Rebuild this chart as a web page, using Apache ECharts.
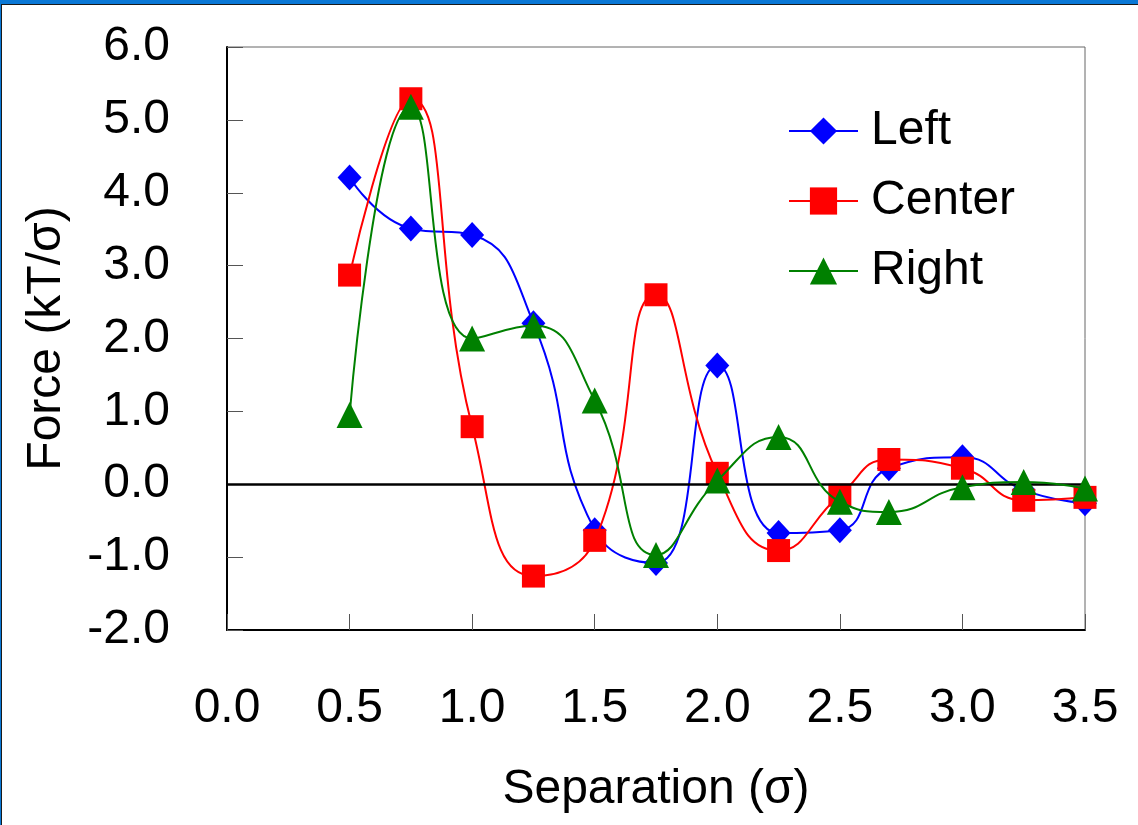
<!DOCTYPE html>
<html>
<head>
<meta charset="utf-8">
<title>Force vs Separation</title>
<script src="https://cdn.jsdelivr.net/npm/echarts@6/dist/echarts.min.js"></script>
<style>
  html, body { margin: 0; padding: 0; background: #fff; }
  #chart { position: absolute; left: 0; top: 0; width: 1138px; height: 825px; }
  #frame {
    position: absolute; left: 0; top: 0; width: 1138px; height: 825px;
    box-sizing: border-box; pointer-events: none;
    border-top: 4px solid #0a78d6; border-left: 1px solid #0a78d6;
  }
  #frame div {
    width: 100%; height: 100%; box-sizing: border-box;
    border-top: 1px solid #1a1a1a; border-left: 1px solid #1a1a1a;
  }
</style>
</head>
<body>
<div id="chart"></div>
<div id="frame"><div></div></div>
<script>
// separation values (sigma)
var separation = [0.5, 0.75, 1.0, 1.25, 1.5, 1.75, 2.0, 2.25, 2.5, 2.7, 3.0, 3.25, 3.5];

// force values (kT/sigma)
var leftForce   = [4.21, 3.51, 3.42, 2.21, -0.63, -1.08, 1.63, -0.67, -0.63, 0.22, 0.37, -0.08, -0.26];
var centerForce = [2.87, 5.29, 0.79, -1.26, -0.77, 2.60, 0.15, -0.91, -0.15, 0.34, 0.22, -0.22, -0.18];
var rightForce  = [0.95, 5.18, 2.00, 2.18, 1.15, -0.97, 0.05, 0.65, -0.24, -0.38, -0.04, 0.03, -0.06];

var seriesNames = ['Left', 'Center', 'Right'];

function pairs(xs, ys) {
    var out = [];
    for (var i = 0; i < xs.length; i++) {
        out.push([xs[i], ys[i]]);
    }
    return out;
}

var font = '"Liberation Sans", Arial, sans-serif';

var myChart = echarts.init(document.getElementById('chart'), null, { renderer: 'canvas' });

myChart.setOption({
    backgroundColor: '#fff',
    animation: false,
    textStyle: { fontFamily: font },
    grid: {
        left: 227, top: 47, right: 53, bottom: 195,
        show: true, borderColor: '#666', borderWidth: 1, backgroundColor: 'transparent'
    },
    legend: {
        orient: 'vertical',
        left: 783, top: 101,
        itemWidth: 69, itemHeight: 34, itemGap: 20,
        data: seriesNames,
        textStyle: { fontSize: 48, color: '#000', fontFamily: font, lineHeight: 50, padding: [0, 0, 0, 8] }
    },
    xAxis: {
        type: 'value',
        min: 0, max: 3.5, interval: 0.5,
        name: 'Separation (σ)',
        nameLocation: 'middle',
        nameGap: 136,
        nameTextStyle: { fontSize: 48, color: '#000', fontFamily: font },
        axisLine: { onZero: false, lineStyle: { color: '#000', width: 2 } },
        axisTick: { inside: true, length: 16, lineStyle: { color: '#555', width: 1 } },
        axisLabel: {
            margin: 55, fontSize: 48, color: '#000', fontFamily: font,
            formatter: function (v) { return v.toFixed(1); }
        },
        splitLine: { show: false }
    },
    yAxis: {
        type: 'value',
        min: -2, max: 6, interval: 1,
        name: 'Force (kT/σ)',
        nameLocation: 'middle',
        nameGap: 156,
        nameTextStyle: { fontSize: 48, color: '#000', fontFamily: font },
        axisLine: { onZero: false, lineStyle: { color: '#000', width: 2 } },
        axisTick: { inside: true, length: 16, lineStyle: { color: '#555', width: 1 } },
        axisLabel: {
            margin: 57, fontSize: 48, color: '#000', fontFamily: font,
            formatter: function (v) { return v.toFixed(1); }
        },
        splitLine: { show: false }
    },
    series: [
        {
            name: 'Left', type: 'line', smooth: 0.5,
            data: pairs(separation, leftForce),
            symbol: 'diamond', symbolSize: [24, 26],
            lineStyle: { color: '#0000ff', width: 2 },
            itemStyle: { color: '#0000ff' },
            z: 3,
            markLine: {
                silent: true, symbol: 'none', animation: false,
                label: { show: false },
                lineStyle: { color: '#000', width: 2.5, type: 'solid' },
                data: [{ yAxis: 0 }]
            }
        },
        {
            name: 'Center', type: 'line', smooth: 0.5,
            data: pairs(separation, centerForce),
            symbol: 'rect', symbolSize: 23,
            lineStyle: { color: '#ff0000', width: 2 },
            itemStyle: { color: '#ff0000' },
            z: 4
        },
        {
            name: 'Right', type: 'line', smooth: 0.5,
            data: pairs(separation, rightForce),
            symbol: 'triangle', symbolSize: 26,
            lineStyle: { color: '#008000', width: 2 },
            itemStyle: { color: '#008000' },
            z: 5
        }
    ]
});
</script>
</body>
</html>
